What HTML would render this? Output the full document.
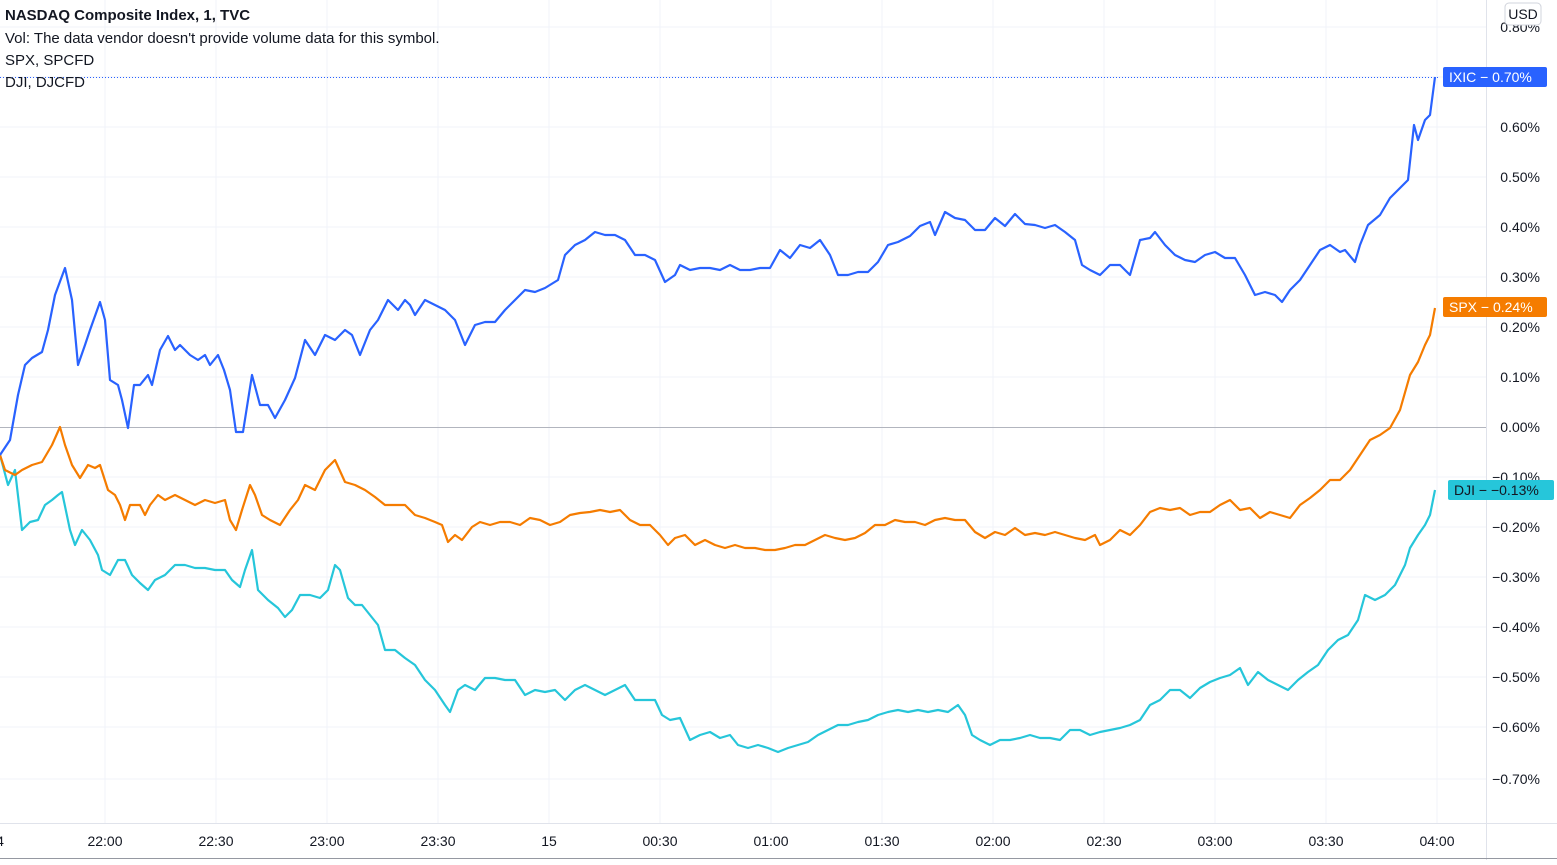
<!DOCTYPE html><html><head><style>body{margin:0;background:#fff;font-family:"Liberation Sans",sans-serif}svg text{font-family:"Liberation Sans",sans-serif}</style></head><body>
<svg width="1557" height="860" xmlns="http://www.w3.org/2000/svg">
<rect width="1557" height="860" fill="#fff"/>
<g stroke="#f0f3fa" stroke-width="1">
<line x1="0" x2="1486" y1="27" y2="27"/><line x1="0" x2="1486" y1="77" y2="77"/><line x1="0" x2="1486" y1="127" y2="127"/><line x1="0" x2="1486" y1="177" y2="177"/><line x1="0" x2="1486" y1="227" y2="227"/><line x1="0" x2="1486" y1="277" y2="277"/><line x1="0" x2="1486" y1="327" y2="327"/><line x1="0" x2="1486" y1="377" y2="377"/><line x1="0" x2="1486" y1="477" y2="477"/><line x1="0" x2="1486" y1="527" y2="527"/><line x1="0" x2="1486" y1="577" y2="577"/><line x1="0" x2="1486" y1="627" y2="627"/><line x1="0" x2="1486" y1="677" y2="677"/><line x1="0" x2="1486" y1="727" y2="727"/><line x1="0" x2="1486" y1="779" y2="779"/>
<line x1="105" x2="105" y1="0" y2="823"/><line x1="216" x2="216" y1="0" y2="823"/><line x1="327" x2="327" y1="0" y2="823"/><line x1="438" x2="438" y1="0" y2="823"/><line x1="549" x2="549" y1="0" y2="823"/><line x1="660" x2="660" y1="0" y2="823"/><line x1="771" x2="771" y1="0" y2="823"/><line x1="882" x2="882" y1="0" y2="823"/><line x1="993" x2="993" y1="0" y2="823"/><line x1="1104" x2="1104" y1="0" y2="823"/><line x1="1215" x2="1215" y1="0" y2="823"/><line x1="1326" x2="1326" y1="0" y2="823"/><line x1="1437" x2="1437" y1="0" y2="823"/>
</g>
<line x1="0" x2="1486" y1="427.5" y2="427.5" stroke="#b2b5be"/>
<line x1="0" x2="1557" y1="823.5" y2="823.5" stroke="#e0e3eb"/>
<line x1="1486.5" x2="1486.5" y1="0" y2="860" stroke="#e0e3eb"/>
<line x1="0" x2="1557" y1="858.5" y2="858.5" stroke="#9598a1"/>
<line x1="0" x2="1440" y1="77.5" y2="77.5" stroke="#2962ff" stroke-dasharray="1 2"/>
<g fill="none" stroke-width="2.2" stroke-linejoin="round">
<polyline stroke="#26c6da" points="0,455 8,485 15,470 22,530 30,522 38,520 45,505 52,500 58,495 62,492 70,530 75,545 82,530 90,540 98,555 102,570 110,575 118,560 125,560 132,575 140,583 148,590 155,580 165,575 175,565 185,565 195,568 205,568 215,570 225,570 232,580 240,587 245,570 252,550 258,590 268,600 278,608 285,617 292,610 300,595 310,595 320,598 328,590 335,565 340,570 348,598 355,605 362,605 370,615 378,625 385,650 395,650 405,658 415,665 425,680 435,690 445,705 450,712 458,690 465,685 475,690 485,678 495,678 505,680 515,680 525,695 535,690 545,692 555,690 565,700 575,690 585,685 595,690 605,695 615,690 625,685 635,700 645,700 655,700 662,715 670,720 680,718 690,740 700,735 710,732 720,738 730,735 738,745 748,748 758,745 768,748 778,752 788,748 798,745 808,742 818,735 828,730 838,725 848,725 858,722 868,720 878,715 888,712 898,710 908,712 918,710 928,712 938,710 948,712 958,705 965,715 972,735 980,740 990,745 1000,740 1010,740 1020,738 1030,735 1040,738 1050,738 1060,740 1070,730 1080,730 1090,735 1100,732 1110,730 1120,728 1130,725 1140,720 1150,705 1160,700 1170,690 1180,690 1190,698 1200,688 1210,682 1220,678 1230,675 1240,668 1248,685 1258,672 1268,680 1278,685 1288,690 1298,680 1308,672 1318,665 1328,650 1338,640 1348,635 1358,620 1365,595 1375,600 1385,595 1395,585 1405,565 1410,548 1418,535 1425,525 1430,515 1435,490"/>
<polyline stroke="#f57c00" points="0,455 5,470 15,475 22,470 32,465 42,462 52,445 60,427 65,445 72,465 80,478 88,465 95,468 100,465 108,490 115,495 120,505 125,520 130,505 140,505 145,515 150,505 158,495 165,500 175,495 185,500 195,505 205,500 215,503 225,500 230,520 236,530 242,510 250,485 255,495 262,515 270,520 280,525 290,510 298,500 305,485 315,490 325,470 335,460 345,482 355,485 365,490 375,497 385,505 395,505 405,505 415,515 425,518 435,522 442,525 448,542 455,535 462,540 472,527 480,522 490,525 500,522 510,522 520,525 530,518 540,520 550,525 560,522 570,515 580,513 590,512 600,510 610,512 620,510 630,520 640,525 650,525 660,535 668,545 675,538 685,535 695,545 705,540 715,545 725,548 735,545 745,548 755,548 765,550 775,550 785,548 795,545 805,545 815,540 825,535 835,538 845,540 855,538 865,533 875,525 885,525 895,520 905,522 915,522 925,525 935,520 945,518 955,520 965,520 975,532 985,538 995,532 1005,535 1015,528 1025,535 1035,533 1045,535 1055,532 1065,535 1075,538 1085,540 1095,535 1100,545 1110,540 1120,530 1130,535 1140,525 1150,512 1160,508 1170,510 1180,508 1190,515 1200,512 1210,512 1220,505 1230,500 1240,510 1250,508 1260,518 1270,512 1280,515 1290,518 1300,505 1310,498 1320,490 1330,480 1340,480 1350,470 1360,455 1370,440 1380,435 1390,428 1400,410 1410,375 1418,362 1425,345 1430,335 1435,308"/>
<polyline stroke="#2962ff" points="0,455 10,440 18,395 25,365 32,358 42,352 48,330 55,295 65,268 72,300 78,365 85,345 90,330 100,302 105,320 110,380 118,385 122,400 128,428 134,385 140,385 148,375 152,385 160,350 168,336 175,350 180,345 190,355 198,360 205,355 210,365 218,355 224,370 230,390 236,432 243,432 252,375 260,405 268,405 275,418 285,400 295,378 305,340 315,355 325,335 335,340 345,330 352,335 360,355 370,330 378,320 388,300 398,310 405,300 410,305 415,315 425,300 435,305 445,310 455,320 465,345 475,325 485,322 495,322 505,310 515,300 525,290 535,292 545,288 558,280 565,255 575,245 585,240 595,232 605,235 615,235 625,240 635,255 645,255 655,260 665,282 675,275 680,265 690,270 700,268 710,268 720,270 730,265 740,270 750,270 760,268 770,268 780,250 790,258 800,245 810,248 820,240 830,255 838,275 848,275 858,272 868,272 878,262 888,245 898,242 910,236 920,226 930,222 935,235 945,212 955,218 965,220 975,230 985,230 995,218 1005,226 1015,214 1025,224 1035,225 1045,228 1055,225 1065,232 1075,240 1082,265 1090,270 1100,275 1110,265 1120,265 1130,275 1140,240 1150,238 1155,232 1165,245 1175,255 1185,260 1195,262 1205,255 1215,252 1225,258 1235,258 1245,275 1255,295 1265,292 1275,295 1282,302 1290,290 1300,280 1310,265 1320,250 1330,245 1340,252 1345,250 1355,262 1360,245 1368,225 1380,215 1390,198 1400,188 1408,180 1414,125 1418,140 1425,120 1430,115 1435,77"/>
</g>
<g font-size="14" fill="#131722" text-anchor="end">
<text x="1540" y="32">0.80%</text><text x="1540" y="132">0.60%</text><text x="1540" y="182">0.50%</text><text x="1540" y="232">0.40%</text><text x="1540" y="282">0.30%</text><text x="1540" y="332">0.20%</text><text x="1540" y="382">0.10%</text><text x="1540" y="432">0.00%</text><text x="1540" y="482">−0.10%</text><text x="1540" y="532">−0.20%</text><text x="1540" y="582">−0.30%</text><text x="1540" y="632">−0.40%</text><text x="1540" y="682">−0.50%</text><text x="1540" y="732">−0.60%</text><text x="1540" y="784">−0.70%</text>
</g>
<rect x="1505" y="3" width="36" height="22" rx="4" fill="#fff" stroke="#d1d4dc"/>
<text x="1523" y="19" font-size="14" fill="#131722" text-anchor="middle">USD</text>
<rect x="1443" y="67" width="104" height="20" rx="2" fill="#2962ff"/>
<text x="1449" y="82" font-size="14" fill="#fff">IXIC − 0.70%</text>
<rect x="1443" y="297" width="104" height="20" rx="2" fill="#f57c00"/>
<text x="1449" y="312" font-size="14" fill="#fff">SPX − 0.24%</text>
<rect x="1448" y="480" width="106" height="20" rx="2" fill="#26c6da"/>
<text x="1454" y="495" font-size="14" fill="#131722">DJI − −0.13%</text>
<g font-size="14" fill="#131722" text-anchor="middle">
<text x="0" y="846">4</text><text x="105" y="846">22:00</text><text x="216" y="846">22:30</text><text x="327" y="846">23:00</text><text x="438" y="846">23:30</text><text x="549" y="846">15</text><text x="660" y="846">00:30</text><text x="771" y="846">01:00</text><text x="882" y="846">01:30</text><text x="993" y="846">02:00</text><text x="1104" y="846">02:30</text><text x="1215" y="846">03:00</text><text x="1326" y="846">03:30</text><text x="1437" y="846">04:00</text>
</g>
<g font-size="15" fill="#131722">
<text x="5" y="20" font-weight="bold">NASDAQ Composite Index, 1, TVC</text>
<text x="5" y="43">Vol: The data vendor doesn't provide volume data for this symbol.</text>
<text x="5" y="65">SPX, SPCFD</text>
<text x="5" y="87">DJI, DJCFD</text>
</g>
</svg></body></html>
